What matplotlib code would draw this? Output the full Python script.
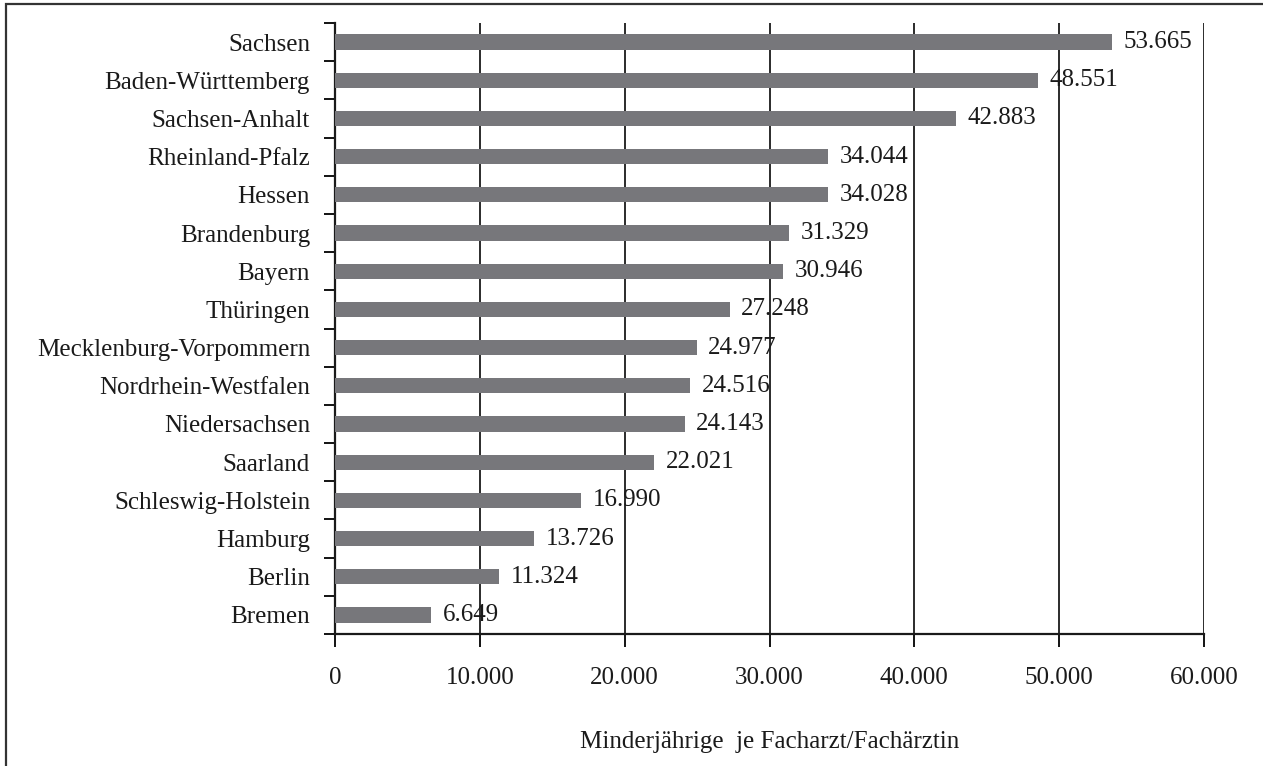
import matplotlib
matplotlib.use("Agg")
import matplotlib.pyplot as plt
from matplotlib.patches import Rectangle

laender = ["Sachsen", "Baden-Württemberg", "Sachsen-Anhalt", "Rheinland-Pfalz", "Hessen",
           "Brandenburg", "Bayern", "Thüringen", "Mecklenburg-Vorpommern", "Nordrhein-Westfalen",
           "Niedersachsen", "Saarland", "Schleswig-Holstein", "Hamburg", "Berlin", "Bremen"]
werte = [53665, 48551, 42883, 34044, 34028, 31329, 30946, 27248, 24977, 24516,
         24143, 22021, 16990, 13726, 11324, 6649]
xticks = [0, 10000, 20000, 30000, 40000, 50000, 60000]
xlabels = ["0", "10.000", "20.000", "30.000", "40.000", "50.000", "60.000"]

plt.rcParams['font.family'] = ['Liberation Serif', 'DejaVu Serif']
FS = 18
W, H = 1263, 766
fig = plt.figure(figsize=(W/100, H/100), dpi=100)
ax = fig.add_axes([335/W, 1-634/H, (1204-335)/W, (634-23)/H])

n = len(laender)
ypos = list(range(n))[::-1]
ax.barh(ypos, werte, height=0.4, color="#77777b", zorder=3)
for y, v in zip(ypos, werte):
    lbl = f"{v:,}".replace(",", ".")
    ax.text(v + 800, y, lbl, va="center", ha="left", fontsize=FS, color="#1a1a1a", zorder=4)

ax.set_xlim(0, 60000)
ax.set_ylim(-0.5, n - 0.5)
ax.set_xticks(xticks)
ax.set_xticklabels(xlabels, fontsize=FS, color="#1a1a1a")
ax.set_yticks(ypos)
ax.set_yticklabels(laender, fontsize=FS, color="#1a1a1a")
ax.set_yticks([i - 0.5 for i in range(n + 1)], minor=True)
ax.tick_params(axis="y", which="major", length=0, pad=18)
ax.tick_params(axis="y", which="minor", length=8, width=1.3, direction="out")
ax.tick_params(axis="x", which="major", length=9, width=1.3, direction="out", pad=15)
for xv in xticks[1:]:
    ax.axvline(xv, color="#1a1a1a", lw=1.3, zorder=2)
for s in ["top", "right"]:
    ax.spines[s].set_visible(False)
for s in ["left", "bottom"]:
    ax.spines[s].set_linewidth(1.6)
    ax.spines[s].set_color("#1a1a1a")
ax.set_xlabel("Minderjährige  je Facharzt/Fachärztin", fontsize=FS, color="#1a1a1a", labelpad=30)

fig.patches.append(Rectangle((6/W, -0.1), 1.2, 1 - 4/H + 0.1, transform=fig.transFigure,
                             fill=False, ec="#333333", lw=1.6))
fig.savefig("out.png", dpi=100)
